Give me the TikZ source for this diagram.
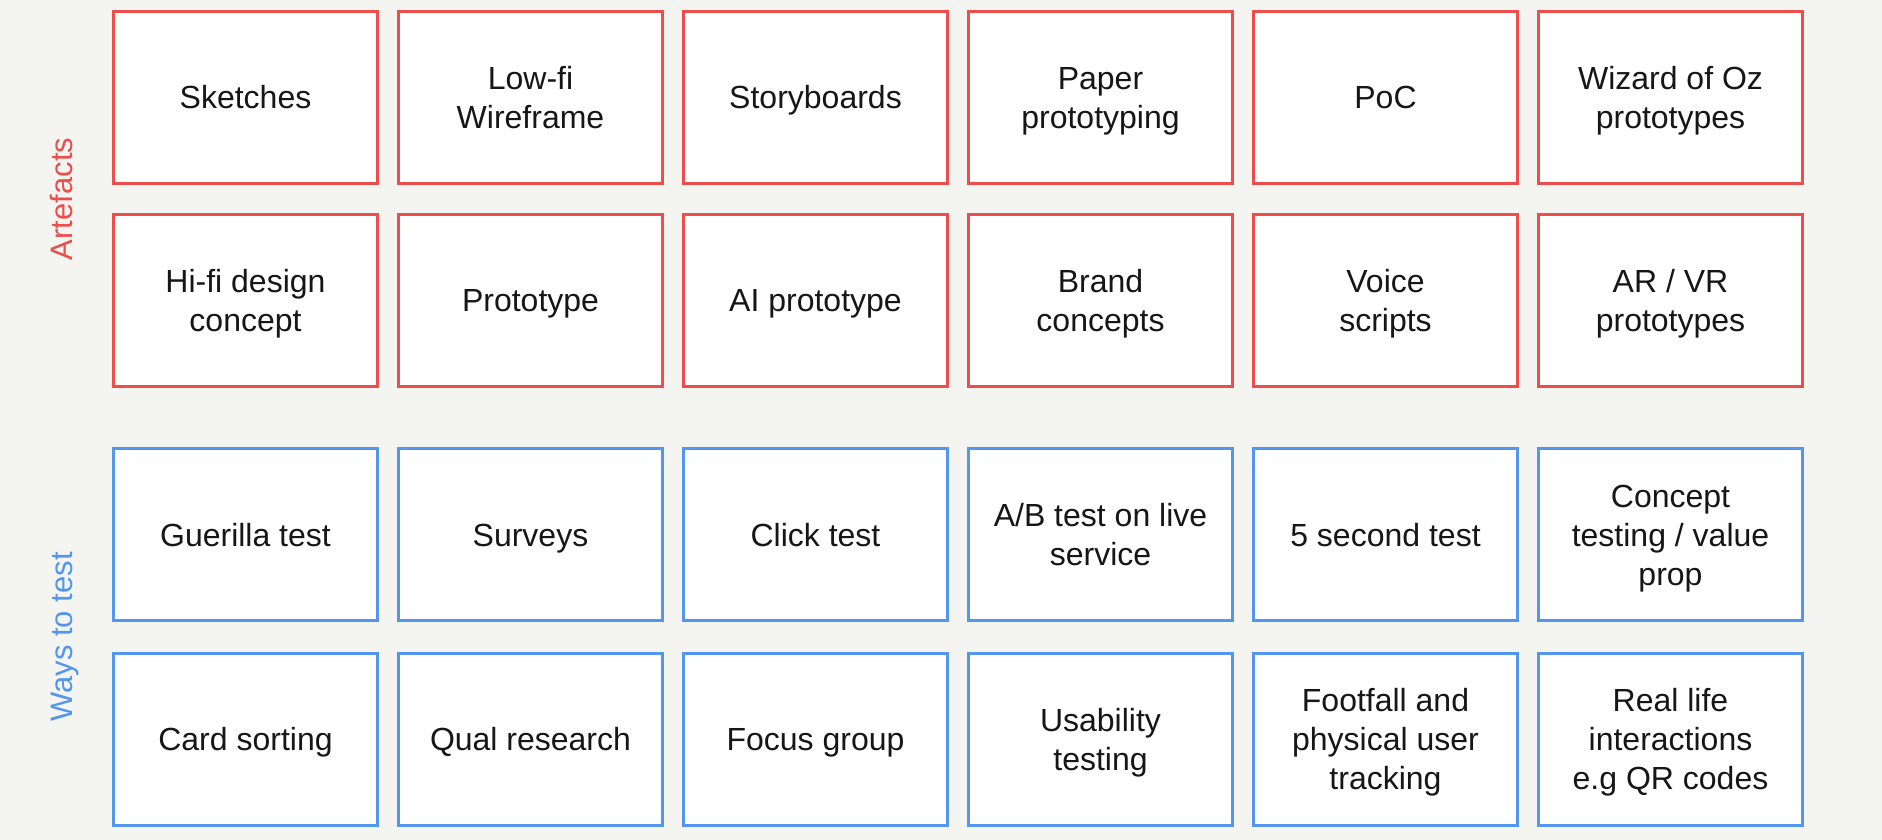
\documentclass[tikz,border=0pt]{standalone}
\usepackage{fontspec}
\setmainfont{Liberation Sans}
\usepackage{xcolor}
\usepackage{tikz}

\definecolor{artred}{RGB}{239,76,76}
\definecolor{testblue}{RGB}{82,150,240}
\definecolor{paper}{RGB}{244,244,240}
\definecolor{ink}{RGB}{22,22,22}

\begin{document}
\begin{tikzpicture}[x=1pt, y=-1pt,
  card/.style={draw, line width=3pt, fill=white, minimum width=264pt, minimum height=172pt,
    text width=236pt, align=flush center, text=ink, font=\fontsize{32}{39}\selectfont,
    execute at begin node={\rule{0pt}{30pt}},
    execute at end node={\rule[-7pt]{0pt}{7pt}}},
  artefact/.style={card, draw=artred},
  waytest/.style={card, draw=testblue},
  side/.style={rotate=90, anchor=base, font=\fontsize{31}{37}\selectfont}]

% Background
\fill[paper] (0,0) rectangle (1882,840);
\useasboundingbox (0,0) rectangle (1882,840);

% Side labels
\node[side, artred] (artefacts) at (72,199) {Artefacts};
\node[side, testblue] (waystotest) at (72,637) {Ways to test};

% Artefacts (row 1)
\node[artefact] (sketches) at (245.5,97.5) {Sketches};
\node[artefact] (lowfi) at (530.5,97.5) {Low-fi\\Wireframe};
\node[artefact] (storyboards) at (815.5,97.5) {Storyboards};
\node[artefact] (paper) at (1100.5,97.5) {Paper\\prototyping};
\node[artefact] (poc) at (1385.5,97.5) {PoC};
\node[artefact] (wizard) at (1670.5,97.5) {Wizard of Oz\\prototypes};

% Artefacts (row 2)
\node[artefact] (hifi) at (245.5,300) {Hi-fi design\\concept};
\node[artefact] (prototype) at (530.5,300) {Prototype};
\node[artefact] (aiproto) at (815.5,300) {AI prototype};
\node[artefact] (brand) at (1100.5,300) {Brand\\concepts};
\node[artefact] (voice) at (1385.5,300) {Voice\\scripts};
\node[artefact] (arvr) at (1670.5,300) {AR / VR\\prototypes};

% Ways to test (row 3)
\node[waytest] (guerilla) at (245.5,534.5) {Guerilla test};
\node[waytest] (surveys) at (530.5,534.5) {Surveys};
\node[waytest] (click) at (815.5,534.5) {Click test};
\node[waytest] (abtest) at (1100.5,534.5) {A/B test on live\\service};
\node[waytest] (fivesec) at (1385.5,534.5) {5 second test};
\node[waytest] (concept) at (1670.5,534.5) {Concept\\testing / value\\prop};

% Ways to test (row 4)
\node[waytest] (cardsort) at (245.5,739) {Card sorting};
\node[waytest] (qual) at (530.5,739) {Qual research};
\node[waytest] (focus) at (815.5,739) {Focus group};
\node[waytest] (usability) at (1100.5,739) {Usability\\testing};
\node[waytest] (footfall) at (1385.5,739) {Footfall and\\physical user\\tracking};
\node[waytest] (reallife) at (1670.5,739) {Real life\\interactions\\e.g QR codes};

\end{tikzpicture}
\end{document}
